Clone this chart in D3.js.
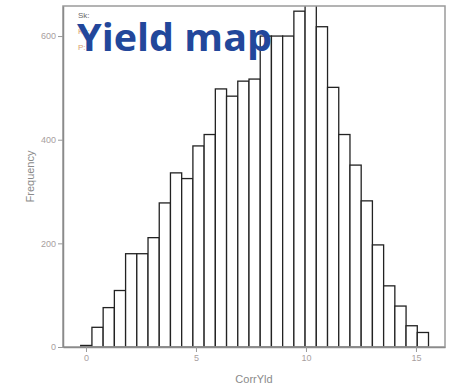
<!DOCTYPE html>
<html>
<head>
<meta charset="utf-8">
<script src="https://cdn.jsdelivr.net/npm/d3@7"></script>
<style>
  body { margin: 0; background: #fff; }
  svg { display: block; }
  .tick text { fill: #a8a0a0; font-family: "Liberation Sans", Arial, sans-serif; font-size: 9px; }
  .tick line { stroke: #999; }
  .axis-title { fill: #8a8a8a; font-family: "Liberation Sans", Arial, sans-serif; font-size: 11px; }
</style>
</head>
<body>
<svg id="chart" width="454" height="390"></svg>
<script>
/* DATA */
const counts = [3, 38, 76, 109, 180, 180, 211, 278, 336, 325, 388, 410, 498, 484, 513, 517,
                600, 600, 600, 648, 670, 618, 501, 410, 351, 282, 197, 118, 79, 41, 28];
const binStart = -0.24;
const binWidth = 0.51;
const xTicks = [0, 5, 10, 15];
const yTicks = [0, 200, 400, 600];
const statLabels = ["Sk:", "Ku:", "P:"];

const plot = { left: 63, right: 445, top: 6, bottom: 347 };

let svg = d3.select("svg#chart");

/* SCALES */
let xScale = d3.scaleLinear()
    .domain([-1.045, 16.32])
    .range([plot.left, plot.right]);

let yScale = d3.scaleLinear()
    .domain([0, 658])
    .range([plot.bottom, plot.top]);

/* BARS */
svg.append("clipPath").attr("id", "plotClip")
  .append("rect")
    .attr("x", plot.left).attr("y", plot.top)
    .attr("width", plot.right - plot.left).attr("height", plot.bottom - plot.top);

let bars = svg.append("g").attr("clip-path", "url(#plotClip)");

bars.selectAll("rect")
  .data(counts)
  .enter().append("rect")
    .attr("x", (d, i) => xScale(binStart + i * binWidth))
    .attr("width", (d, i) => xScale(binStart + (i + 1) * binWidth) - xScale(binStart + i * binWidth))
    .attr("y", d => yScale(d))
    .attr("height", d => yScale(0) - yScale(d))
    .style("fill", "#fff")
    .style("stroke", "#222")
    .style("stroke-width", 1.3);

/* FRAME */
svg.append("rect")
  .attr("x", plot.left).attr("y", plot.top)
  .attr("width", plot.right - plot.left).attr("height", plot.bottom - plot.top)
  .style("fill", "none")
  .style("stroke", "#9a9a9a")
  .style("stroke-width", 1.5);

/* AXES */
let xAxis = d3.axisBottom(xScale).tickValues(xTicks).tickSize(5).tickSizeOuter(0).tickPadding(3);
let yAxis = d3.axisLeft(yScale).tickValues(yTicks).tickSize(5).tickSizeOuter(0).tickPadding(2);

let xGroup = svg.append("g").attr("transform", "translate(0," + plot.bottom + ")").call(xAxis);
let yGroup = svg.append("g").attr("transform", "translate(" + plot.left + ",0)").call(yAxis);
xGroup.select(".domain").style("stroke", "#8a8a8a").style("stroke-width", 1.5);
yGroup.select(".domain").style("stroke", "#8a8a8a").style("stroke-width", 1.5);

/* AXIS TITLES */
svg.append("text")
  .attr("class", "axis-title")
  .attr("x", (plot.left + plot.right) / 2)
  .attr("y", 383)
  .attr("text-anchor", "middle")
  .text("CorrYld");

svg.append("text")
  .attr("class", "axis-title")
  .attr("transform", "translate(34," + ((plot.top + plot.bottom) / 2) + ") rotate(-90)")
  .attr("text-anchor", "middle")
  .text("Frequency");

/* STATS LABELS (mostly hidden behind the overlay title) */
svg.selectAll("text.stat")
  .data(statLabels)
  .enter().append("text")
    .attr("class", "stat")
    .attr("x", 78)
    .attr("y", (d, i) => 18 + i * 16)
    .style("font-family", "Liberation Sans, Arial, sans-serif")
    .style("font-size", "8px")
    .style("fill", (d, i) => i === 0 ? "#666" : "#d8a070")
    .text(d => d);

/* OVERLAY TITLE */
svg.append("text")
  .attr("x", 77)
  .attr("y", 51)
  .attr("textLength", 195)
  .attr("lengthAdjust", "spacingAndGlyphs")
  .style("font-family", "Open Sans, sans-serif")
  .style("font-weight", "bold")
  .style("font-size", "38px")
  .style("fill", "#22479b")
  .text("Yield map");
</script>
</body>
</html>
